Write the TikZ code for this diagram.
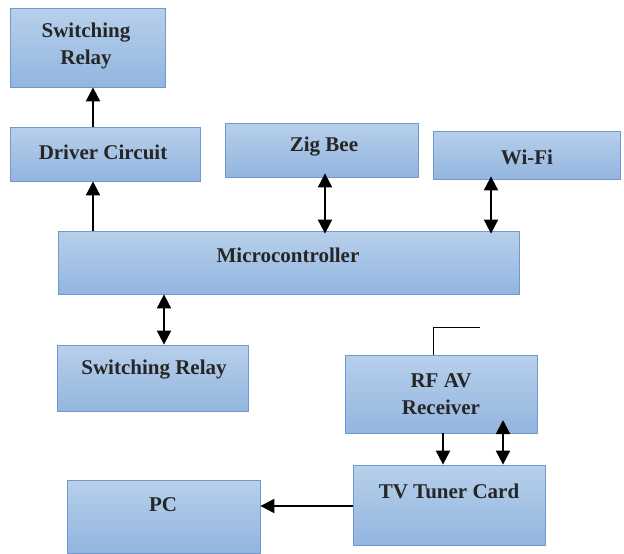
\documentclass[tikz,border=0pt]{standalone}
\usepackage{fontspec}
\setmainfont{Liberation Serif}
\usetikzlibrary{arrows.meta}
\definecolor{boxtop}{HTML}{B7D0EB}
\definecolor{boxbot}{HTML}{93B5DF}
\definecolor{boxline}{HTML}{7199D0}
\tikzset{
  blk/.style={draw=boxline, line width=0.8pt, top color=boxtop, bottom color=boxbot,
    inner sep=0pt},
  lbl/.style={font=\fontsize{21}{27}\selectfont\bfseries, text=black!85, align=center, inner sep=0pt},
  tip/.style={Triangle[length=14pt,width=14pt]},
  arr/.style={line width=2pt, -{Triangle[length=14pt,width=14pt]}},
  darr/.style={line width=2pt, {Triangle[length=14pt,width=14pt]}-{Triangle[length=14pt,width=14pt]}},
}
\begin{document}
\begin{tikzpicture}[x=1pt,y=-1pt]
\useasboundingbox (0,0) rectangle (624,554);
% blocks
\node[blk, minimum width=155pt, minimum height=79pt] (sr1) at (87.5,47.5) {};
\node[blk, minimum width=190pt, minimum height=54pt] (drv) at (105,154) {};
\node[blk, minimum width=193pt, minimum height=54pt] (zig) at (321.5,150) {};
\node[blk, minimum width=187pt, minimum height=48pt] (wifi) at (526.5,155) {};
\node[blk, minimum width=461pt, minimum height=63pt] (mcu) at (288.5,262.5) {};
\node[blk, minimum width=191pt, minimum height=66pt] (sr2) at (152.5,378) {};
\node[blk, minimum width=192pt, minimum height=78pt] (rf) at (441,394) {};
\node[blk, minimum width=192pt, minimum height=80pt] (tv) at (449,505) {};
\node[blk, minimum width=193pt, minimum height=73pt] (pc) at (163.5,516.5) {};
% labels
\node[lbl] (tsr1) at (86,46) {Switching\\Relay};
\node[lbl] (tdrv) at (103,152) {Driver Circuit};
\node[lbl] (tzig) at (324,147) {Zig Bee};
\node[lbl] (twifi) at (527,157) {Wi-Fi};
\node[lbl] (tmcu) at (288,255) {Microcontroller};
\node[lbl] (tsr2) at (154,370) {Switching Relay};
\node[lbl] (trf) at (441,394) {RF AV\\Receiver};
\node[lbl] (ttv) at (449,491) {TV Tuner Card};
\node[lbl] (tpc) at (163,505) {PC};
% connector columns
\coordinate (xa) at (93,0);
\coordinate (xz) at (325,0);
\coordinate (xw) at (491,0);
\coordinate (xs) at (164,0);
\coordinate (xr) at (443,0);
\coordinate (xd) at (503,0);
\coordinate (xant) at (433,0);
\coordinate (ytop) at (0,420);
\coordinate (ypc) at (0,506);
\coordinate (anttip) at (480,327);
% connectors
\draw[arr] (drv.north -| xa) -- (sr1.south -| xa);
\draw[arr] (mcu.north -| xa) -- (drv.south -| xa);
\draw[darr] ([yshift=-3pt]mcu.north -| xz) -- ([yshift=4pt]zig.south -| xz);
\draw[darr] ([yshift=-3pt]mcu.north -| xw) -- ([yshift=3pt]wifi.south -| xw);
\draw[darr] (mcu.south -| xs) -- (sr2.north -| xs);
\draw[arr] (rf.south -| xr) -- (tv.north -| xr);
\draw[darr] (ytop -| xd) -- (tv.north -| xd);
\draw[line width=0.8pt] (rf.north -| xant) |- (anttip);
\draw[arr] (tv.west |- ypc) -- (pc.east |- ypc);
\end{tikzpicture}
\end{document}
